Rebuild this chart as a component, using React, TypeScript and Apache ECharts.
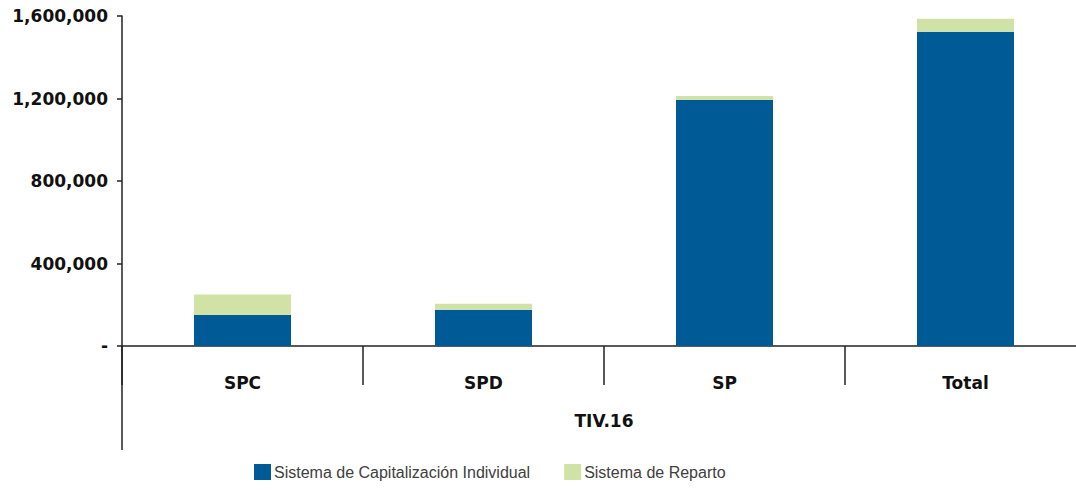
import React, { useEffect, useRef } from "react";
import * as echarts from "echarts";

const categories = ["SPC", "SPD", "SP", "Total"];
const groupLabel = ["TIV.16"];
const capitalizacion = [150000, 176000, 1193000, 1524000];
const reparto = [100000, 29000, 19000, 63000];
const seriesNames = ["Sistema de Capitalización Individual", "Sistema de Reparto"];

export default function App() {
  const ref = useRef<HTMLDivElement>(null);
  useEffect(() => {
    if (!ref.current) return;
    const chart = echarts.init(ref.current, null, { renderer: "svg" });
    const font = "DejaVu Sans";
    chart.setOption({
      animation: false,
      grid: { left: 122, top: 16, right: 14, bottom: 144, containLabel: false },
      legend: {
        top: 459,
        left: 249,
        itemWidth: 17,
        itemHeight: 16,
        itemGap: 34,
        icon: "rect",
        textStyle: { fontFamily: "Liberation Sans", fontSize: 16, color: "#404040", padding: [0, 0, 0, -2] },
        data: seriesNames,
      },
      xAxis: [
        {
          type: "category",
          data: categories,
          axisLine: { lineStyle: { color: "#222", width: 1.5 } },
          axisTick: { show: true, length: 39, lineStyle: { color: "#222", width: 1.5 } },
          axisLabel: { margin: 28, fontFamily: font, fontWeight: "bold", fontSize: 17, color: "#111" },
        },
        {
          type: "category",
          data: groupLabel,
          position: "bottom",
          offset: 66,
          axisLine: { show: false },
          axisTick: { show: false },
          axisLabel: { margin: 0, fontFamily: font, fontWeight: "bold", fontSize: 17, color: "#111" },
        },
      ],
      yAxis: {
        type: "value",
        min: 0,
        max: 1600000,
        interval: 400000,
        splitLine: { show: false },
        axisLine: { show: true, lineStyle: { color: "#222", width: 1.5 } },
        axisTick: { show: true, length: 5, lineStyle: { color: "#222", width: 1.5 } },
        axisLabel: {
          margin: 14,
          fontFamily: font,
          fontWeight: "bold",
          fontSize: 17,
          color: "#111",
          formatter: (v: number) => (v === 0 ? "-" : v.toLocaleString("en-US")),
        },
      },
      graphic: [
        {
          type: "line",
          shape: { x1: 122, y1: 346, x2: 122, y2: 450 },
          style: { stroke: "#222", lineWidth: 1.5 },
        },
      ],
      series: [
        {
          name: seriesNames[0],
          type: "bar",
          stack: "total",
          barWidth: 97,
          data: capitalizacion,
          itemStyle: { color: "#005A96" },
        },
        {
          name: seriesNames[1],
          type: "bar",
          stack: "total",
          barWidth: 97,
          data: reparto,
          itemStyle: { color: "#D1E2A7" },
        },
      ],
    });
    return () => chart.dispose();
  }, []);
  return (
    <div style={{ width: 1076, height: 490, position: "absolute", left: 0, top: 0, overflow: "hidden" }}>
      <div ref={ref} style={{ width: 1100, height: 490 }} />
    </div>
  );
}
